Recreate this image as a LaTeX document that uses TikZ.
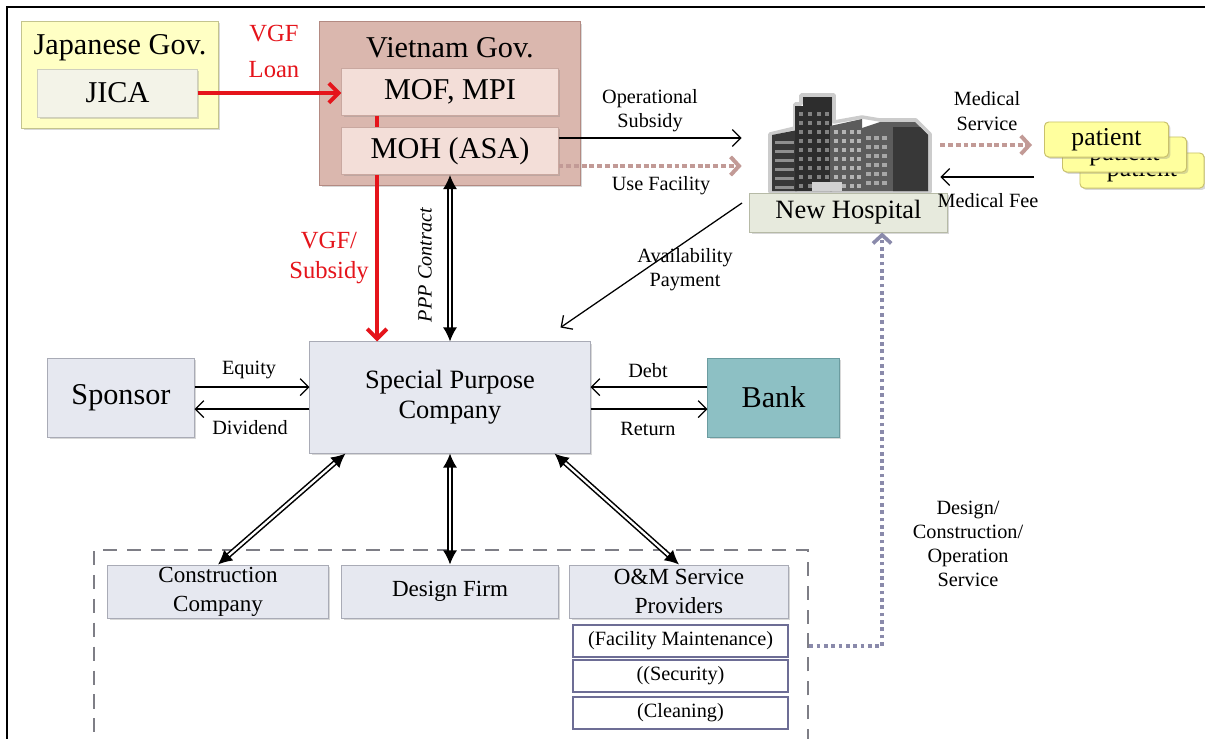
\documentclass[tikz,border=0pt]{standalone}
\usepackage{fontspec}
\setmainfont{Liberation Serif}
\usetikzlibrary{arrows.meta,calc,positioning,shadows}
\definecolor{GovYellow}{HTML}{FFFFC4}
\definecolor{GovYellowEdge}{HTML}{C4C48E}
\definecolor{JicaFill}{HTML}{F3F3E8}
\definecolor{JicaEdge}{HTML}{CFCFBE}
\definecolor{VnRose}{HTML}{DAB7AE}
\definecolor{VnRoseEdge}{HTML}{B38A82}
\definecolor{MinFill}{HTML}{F3DED8}
\definecolor{MinEdge}{HTML}{C9A8A0}
\definecolor{Card}{HTML}{E6E8F0}
\definecolor{CardEdge}{HTML}{A9ABB6}
\definecolor{BankTeal}{HTML}{8DC0C4}
\definecolor{BankEdge}{HTML}{6B9CA0}
\definecolor{HospFill}{HTML}{E7EADD}
\definecolor{HospEdge}{HTML}{B6BAA6}
\definecolor{TaskEdge}{HTML}{6D6D95}
\definecolor{VgfRed}{HTML}{E5141B}
\definecolor{UseRose}{HTML}{C29A96}
\definecolor{SvcPurple}{HTML}{8A8AAB}
\definecolor{TeamGrey}{HTML}{7E7E86}
\definecolor{PatYellow}{HTML}{FFFF9E}
\definecolor{PatEdge}{HTML}{C9C16C}
\definecolor{BldgDark}{HTML}{383838}
\definecolor{BldgMid}{HTML}{5C5C5C}
\definecolor{BldgLite}{HTML}{B4B4B4}

\begin{document}
\begin{tikzpicture}[x=0.025cm,y=-0.025cm,
    every node/.style={inner sep=0pt},
    shadowed/.style={drop shadow={shadow xshift=1.4pt,shadow yshift=-1.4pt,opacity=.3}},
    panel/.style={shadowed,line width=.7pt},
    card/.style={panel,draw=CardEdge,fill=Card},
    task/.style={draw=TaskEdge,fill=white,line width=1.2pt,minimum width=5.375cm,minimum height=.8cm},
    patient/.style={panel,rounded corners=3pt,draw=PatEdge,fill=PatYellow,
      minimum width=3.1cm,minimum height=.875cm,font=\fontsize{18.3}{20}\selectfont},
    big/.style={font=\fontsize{21.5}{24}\selectfont},
    mid/.style={font=\fontsize{18.8}{21.5}\selectfont,align=center},
    sub/.style={font=\fontsize{16.4}{20.5}\selectfont,align=center},
    small/.style={font=\fontsize{14.4}{17.2}\selectfont,align=center},
    redtxt/.style={text=VgfRed,align=center},
    flow/.style={line width=.9pt,-{Straight Barb[length=6pt,width=12pt]}},
    loan/.style={VgfRed,line width=2.8pt,-{Straight Barb[length=7pt,width=14pt]}},
    usefac/.style={UseRose,line width=2.8pt,dash pattern=on 3.5pt off 2pt,
      -{Straight Barb[length=6pt,width=13pt]}},
    service/.style={SvcPurple,line width=2.6pt,dash pattern=on 2.6pt off 2.6pt,
      -{Straight Barb[length=6pt,width=13pt]}},
    contract/.style={double,double distance=1.6pt,line width=1.1pt,
      {Latex[length=10pt,width=10pt]}-{Latex[length=10pt,width=10pt]}},
  ]
  \useasboundingbox (0,0) rectangle (1205,738);
  \clip (0,0) rectangle (1205,738);
  \fill[white] (0,0) rectangle (1205,738);
  \draw[line width=1.5pt] (7,745) -- (7,7) -- (1212,7);

  % lenders and government
  \node[panel,draw=GovYellowEdge,fill=GovYellow,minimum width=4.9cm,minimum height=2.675cm] (jpn) at (120,75) {};
  \node[big] (jpnlbl) at (120,48) {Japanese Gov.};
  \node[panel,draw=JicaEdge,fill=JicaFill,minimum width=3.975cm,minimum height=1.2cm,big] (jica) at (117.5,93) {JICA};

  \node[panel,draw=VnRoseEdge,fill=VnRose,minimum width=6.5cm,minimum height=4.075cm] (vn) at (450,103.5) {};
  \node[big] (vnlbl) at (450,48) {Vietnam Gov.};
  \node[panel,draw=MinEdge,fill=MinFill,minimum width=5.4cm,minimum height=1.175cm,big] (mof) at (450,91.5) {MOF, MPI};
  \node[panel,draw=MinEdge,fill=MinFill,minimum width=5.4cm,minimum height=1.175cm,big] (moh) at (450,151) {MOH (ASA)};

  % hospital and patients
  \node[minimum width=4.95cm,minimum height=2.375cm] (bldg) at (841,144.5) {};
  \draw[gray!40,line width=2.5pt,line join=round,fill=white]
    (770,134) -- (795,128) -- (795,104) -- (801,104) -- (801,95) -- (834,95)
    -- (834,122) -- (862,117) -- (880,120) -- (916,120) -- (930,134) -- (930,192) -- (770,192) -- cycle;
  \fill[BldgDark] (772,135) -- (797,130) -- (797,191) -- (772,191) -- cycle;
  \foreach \y in {141,150,...,186}
    \fill[BldgLite!70!BldgDark] (775,\y) rectangle (794,\y+2.5);
  \fill[BldgDark!80!black] (795,106) -- (803,106) -- (803,97) -- (832,97) -- (832,191) -- (795,191) -- cycle;
  \foreach \y in {112,121,...,184}
    \foreach \x in {799,808,817,825}
      \fill[BldgLite!60!BldgDark] (\x,\y) rectangle +(4,4);
  \fill[BldgMid] (830,126) -- (862,119) -- (862,191) -- (830,191) -- cycle;
  \foreach \y in {130,139,...,184}
    \foreach \x in {834,842,850,857}
      \fill[BldgLite] (\x,\y) rectangle +(4,4);
  \fill[BldgMid] (862,128) -- (880,122) -- (915,122) -- (928,135) -- (928,191) -- (862,191) -- cycle;
  \fill[BldgDark] (893,127) -- (920,127) -- (928,135) -- (928,191) -- (893,191) -- cycle;
  \foreach \y in {136,145,...,184}
    \foreach \x in {866,874,882}
      \fill[BldgLite!85!BldgMid] (\x,\y) rectangle +(5,4);
  \fill[BldgLite!60] (812,182) rectangle (842,191);
  \node[panel,draw=HospEdge,fill=HospFill,minimum width=4.925cm,minimum height=.975cm,mid] (nh) at (848.5,212.5) {New Hospital};

  \node[patient] (p3) at (1142,170.5) {patient};
  \node[patient] (p2) at (1124.5,154.5) {patient};
  \node[patient] (p1) at (1106.5,139.5) {patient};

  % project company and partners
  \node[card,minimum width=7cm,minimum height=2.775cm,mid] (spc) at (450,397.5) {Special Purpose\\Company};
  \node[card,minimum width=3.65cm,minimum height=1.975cm,big] (spo) at (121,397.5) {Sponsor};
  \node[panel,draw=BankEdge,fill=BankTeal,minimum width=3.275cm,minimum height=1.975cm,big] (bank) at (773.5,397.5) {Bank};

  \node[draw=TeamGrey,line width=1.8pt,dash pattern=on 10pt off 7pt,minimum width=17.85cm,minimum height=5.5cm] (team) at (451,660) {};
  \node[card,minimum width=5.5cm,minimum height=1.325cm,sub] (cc) at (218,591.5) {Construction\\Company};
  \node[card,minimum width=5.4cm,minimum height=1.325cm,sub] (df) at (450,591.5) {Design Firm};
  \node[card,minimum width=5.45cm,minimum height=1.325cm,sub] (om) at (679,591.5) {O\&M Service\\Providers};
  \node[task,small] (fac) at (680.5,641) {(Facility Maintenance)};
  \node[task,small] (sec) at (680.5,676) {((Security)};
  \node[task,small] (cln) at (680.5,713) {(Cleaning)};

  % money and service flows
  \coordinate (vgf) at (377,0);
  \draw[loan] (jica.east) -- (jica.east -| mof.west);
  \draw[VgfRed,line width=2.8pt] (mof.south -| vgf) -- (moh.north -| vgf);
  \draw[loan] (moh.south -| vgf) -- (spc.north -| vgf);
  \draw[contract] (moh.south) -- (spc.north);

  \coordinate (os) at ($(moh.east)+(0,-13)$);
  \coordinate (uf) at ($(moh.east)+(0,15)$);
  \draw[flow] (os) -- (os -| bldg.west);
  \draw[usefac] (uf) -- (uf -| bldg.west);

  \coordinate (ms) at (1032,145);
  \coordinate (mf) at (1034,177);
  \draw[usefac] (bldg.east |- ms) -- (ms);
  \draw[flow] (mf) -- (mf -| bldg.east);

  \coordinate (ap) at (742,203);
  \draw[flow] (ap) -- ($(spc.north east)+(-30,-14)$);

  \draw[flow] ([yshift=.26cm]spo.east) -- ([yshift=.26cm]spc.west);
  \draw[flow] ([yshift=-.29cm]spc.west) -- ([yshift=-.29cm]spo.east);
  \draw[flow] ([yshift=.26cm]bank.west) -- ([yshift=.26cm]spc.east);
  \draw[flow] ([yshift=-.29cm]spc.east) -- ([yshift=-.29cm]bank.west);

  \draw[contract] ([xshift=.9cm]spc.south west) -- (cc.north);
  \draw[contract] (spc.south) -- (df.north);
  \draw[contract] ([xshift=-.9cm]spc.south east) -- (om.north);

  \draw[service] ([yshift=.35cm]team.east) -| ([xshift=.84cm]nh.south);

  % labels
  \node[redtxt,font=\fontsize{17.5}{25}\selectfont] (lblloan) at (274,51.5) {VGF\\Loan};
  \node[redtxt,font=\fontsize{17.5}{21.5}\selectfont] (lblvgf) at (329,258) {VGF/\\Subsidy};
  \node[small,font=\fontsize{14.4}{17.2}\selectfont\itshape,rotate=90] (lblppp) at (425,265) {PPP Contract};
  \node[small] (lblop) at (650,110.5) {Operational\\Subsidy};
  \node[small] (lbluse) at (661,186) {Use Facility};
  \node[small] (lblms) at (987,111) {Medical\\Service};
  \node[small] (lblmf) at (988,201) {Medical Fee};
  \node[small] (lblap) at (685,269.5) {Availability\\Payment};
  \node[small] (lbleq) at (249,370) {Equity};
  \node[small] (lbldiv) at (250,428) {Dividend};
  \node[small] (lbldebt) at (648,371) {Debt};
  \node[small] (lblret) at (648,429) {Return};
  \node[small] (lblsvc) at (968,544) {Design/\\Construction/\\Operation\\Service};
\end{tikzpicture}
\end{document}
